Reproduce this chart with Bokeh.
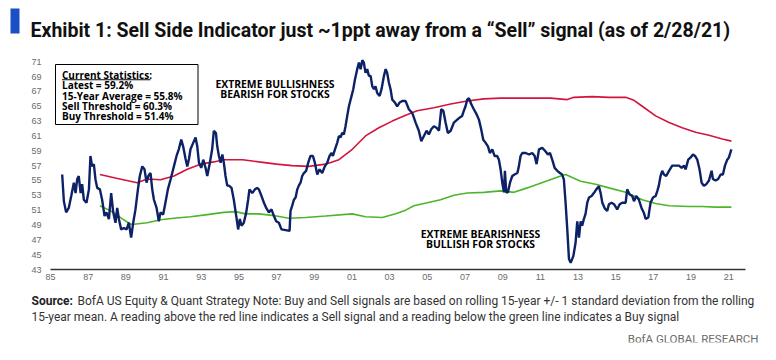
from bokeh.plotting import figure
from bokeh.models import Range1d, FixedTicker, Label, BoxAnnotation
from bokeh.embed import file_html
from bokeh.resources import INLINE

# ---------------- data ----------------
indicator_year = [1985.62, 1985.71, 1985.83, 1985.97, 1986.10, 1986.24, 1986.33, 1986.42, 1986.50, 1986.60,
    1986.68, 1986.77, 1986.91, 1987.04, 1987.12, 1987.21, 1987.30, 1987.39, 1987.48, 1987.62,
    1987.74, 1987.87, 1987.97, 1988.10, 1988.22, 1988.33, 1988.45, 1988.54, 1988.63, 1988.75,
    1988.89, 1989.04, 1989.16, 1989.28, 1989.39, 1989.51, 1989.64, 1989.74, 1989.87, 1989.99,
    1990.10, 1990.19, 1990.31, 1990.40, 1990.49, 1990.63, 1990.75, 1990.84, 1990.98, 1991.10,
    1991.23, 1991.37, 1991.55, 1991.69, 1991.81, 1991.94, 1992.04, 1992.17, 1992.26, 1992.35,
    1992.43, 1992.58, 1992.70, 1992.79, 1992.88, 1993.00, 1993.11, 1993.23, 1993.32, 1993.46,
    1993.58, 1993.67, 1993.78, 1993.85, 1993.94, 1994.03, 1994.12, 1994.20, 1994.29, 1994.38,
    1994.47, 1994.61, 1994.73, 1994.86, 1994.96, 1995.05, 1995.14, 1995.26, 1995.39, 1995.49,
    1995.56, 1995.71, 1995.85, 1995.97, 1996.06, 1996.20, 1996.33, 1996.45, 1996.59, 1996.73,
    1996.86, 1996.98, 1997.12, 1997.26, 1997.48, 1997.69, 1997.74, 1997.83, 1997.92, 1998.01,
    1998.10, 1998.18, 1998.27, 1998.36, 1998.45, 1998.57, 1998.68, 1998.80, 1998.93, 1999.03,
    1999.16, 1999.28, 1999.42, 1999.56, 1999.69, 1999.81, 1999.92, 1999.99, 2000.10, 2000.22,
    2000.31, 2000.40, 2000.48, 2000.57, 2000.66, 2000.75, 2000.84, 2000.98, 2001.07, 2001.16,
    2001.28, 2001.37, 2001.46, 2001.55, 2001.63, 2001.72, 2001.81, 2001.90, 2001.99, 2002.08,
    2002.17, 2002.25, 2002.34, 2002.47, 2002.57, 2002.70, 2002.79, 2002.87, 2002.96, 2003.05,
    2003.14, 2003.28, 2003.40, 2003.53, 2003.67, 2003.85, 2004.02, 2004.20, 2004.38, 2004.55,
    2004.68, 2004.82, 2004.96, 2005.08, 2005.21, 2005.35, 2005.49, 2005.62, 2005.74, 2005.85,
    2005.97, 2006.09, 2006.24, 2006.41, 2006.59, 2006.73, 2006.85, 2006.94, 2007.03, 2007.12,
    2007.21, 2007.33, 2007.47, 2007.62, 2007.74, 2007.86, 2007.97, 2008.09, 2008.22, 2008.32,
    2008.45, 2008.57, 2008.71, 2008.80, 2008.89, 2008.98, 2009.07, 2009.12, 2009.19, 2009.28,
    2009.39, 2009.51, 2009.63, 2009.78, 2009.86, 2009.95, 2010.04, 2010.22, 2010.40, 2010.57,
    2010.70, 2010.80, 2010.93, 2011.10, 2011.28, 2011.40, 2011.51, 2011.63, 2011.76, 2011.90,
    2012.04, 2012.16, 2012.25, 2012.34, 2012.43, 2012.52, 2012.61, 2012.75, 2012.87, 2012.96,
    2013.05, 2013.14, 2013.22, 2013.31, 2013.40, 2013.49, 2013.58, 2013.72, 2013.84, 2013.97,
    2014.11, 2014.20, 2014.29, 2014.43, 2014.55, 2014.64, 2014.78, 2014.91, 2015.08, 2015.21,
    2015.35, 2015.53, 2015.61, 2015.74, 2015.88, 2015.97, 2016.09, 2016.23, 2016.37, 2016.50,
    2016.59, 2016.73, 2016.85, 2016.98, 2017.12, 2017.21, 2017.29, 2017.38, 2017.47, 2017.56,
    2017.68, 2017.83, 2018.00, 2018.18, 2018.36, 2018.50, 2018.62, 2018.71, 2018.85, 2018.98,
    2019.10, 2019.21, 2019.33, 2019.45, 2019.56, 2019.68, 2019.81, 2019.95, 2020.09, 2020.16,
    2020.30, 2020.44, 2020.57, 2020.69, 2020.80, 2020.92, 2021.01, 2021.14]
indicator_value = [55.8, 52.2, 50.7, 51.3, 52.9, 54.7, 53.3, 55.2, 55.6, 53.3,
    54.5, 52.4, 52.0, 53.8, 58.3, 56.9, 57.2, 55.1, 54.0, 53.8,
    52.4, 50.2, 50.7, 49.8, 53.3, 50.7, 49.3, 51.3, 49.8, 48.4,
    48.6, 48.4, 49.3, 47.3, 49.3, 51.1, 53.8, 55.6, 56.9, 56.5,
    54.7, 55.6, 56.0, 53.8, 52.4, 51.3, 49.5, 50.7, 50.4, 52.0,
    53.8, 55.1, 56.9, 58.3, 59.2, 60.5, 59.6, 57.9, 56.9, 57.9,
    59.2, 60.1, 60.8, 59.6, 57.4, 56.7, 57.8, 56.7, 55.6, 57.4,
    59.2, 61.7, 61.4, 59.6, 58.3, 57.4, 58.5, 57.4, 55.6, 54.3,
    54.3, 54.0, 52.4, 50.2, 48.4, 49.8, 48.9, 49.3, 50.7, 52.4,
    53.8, 53.3, 53.8, 54.0, 53.8, 52.9, 52.0, 51.3, 50.7, 51.1,
    50.2, 49.5, 49.3, 48.4, 48.3, 48.2, 50.9, 51.6, 52.4, 52.7,
    53.8, 54.3, 54.7, 55.6, 56.0, 56.3, 57.4, 58.3, 58.3, 57.4,
    55.8, 56.5, 56.0, 56.9, 57.4, 58.3, 58.7, 58.3, 59.2, 60.1,
    61.0, 60.8, 61.4, 61.2, 62.3, 63.7, 65.0, 66.4, 67.3, 68.6,
    70.0, 70.9, 70.0, 71.2, 70.9, 69.5, 70.0, 69.1, 69.1, 67.7,
    67.3, 67.7, 66.8, 66.4, 67.3, 69.1, 70.0, 69.5, 68.2, 67.3,
    65.9, 65.5, 65.0, 65.5, 65.7, 65.7, 64.6, 64.1, 62.8, 61.7,
    60.3, 61.0, 61.7, 61.2, 61.9, 62.3, 62.1, 61.7, 64.6, 64.4,
    62.8, 61.4, 61.7, 62.8, 63.2, 63.5, 63.7, 64.4, 65.0, 65.9,
    66.1, 65.3, 64.6, 63.9, 63.2, 61.9, 60.5, 60.1, 59.6, 58.7,
    59.2, 58.3, 58.3, 57.8, 56.5, 54.7, 53.4, 56.3, 53.4, 53.4,
    54.7, 55.6, 55.8, 56.0, 56.9, 58.3, 58.7, 58.7, 58.5, 58.7,
    58.3, 57.2, 59.2, 59.4, 58.9, 58.5, 58.7, 57.8, 56.7, 56.3,
    56.0, 55.8, 55.1, 52.0, 48.4, 44.4, 43.9, 44.8, 46.6, 49.5,
    47.3, 49.5, 48.9, 49.8, 50.5, 52.0, 52.7, 52.9, 53.3, 53.8,
    54.2, 53.3, 52.0, 51.2, 50.9, 51.8, 52.0, 51.8, 51.1, 51.8,
    52.0, 52.0, 53.8, 53.1, 52.9, 52.2, 52.9, 52.4, 51.3, 50.6,
    49.8, 50.0, 52.0, 52.7, 52.9, 53.6, 54.3, 55.6, 56.3, 55.8,
    55.6, 56.3, 57.0, 57.0, 57.0, 56.7, 57.0, 56.5, 57.8, 58.1,
    58.5, 58.3, 57.8, 56.5, 54.7, 54.3, 54.5, 55.0, 56.3, 55.2,
    55.0, 55.2, 55.8, 55.8, 57.0, 57.8, 58.1, 59.2]

sell_year = [1987.62, 1988.50, 1989.60, 1990.13, 1990.84, 1991.55, 1992.26, 1992.96, 1993.67, 1994.20,
    1995.20, 1996.06, 1997.00, 1997.83, 1998.71, 1999.60, 2000.31, 2001.02, 2001.72, 2002.43,
    2003.14, 2003.85, 2004.46, 2005.35, 2006.24, 2007.12, 2008.00, 2008.89, 2009.78, 2010.66,
    2011.55, 2012.43, 2012.78, 2013.75, 2014.64, 2015.53, 2015.97, 2016.41, 2017.12, 2017.83,
    2018.53, 2019.24, 2019.95, 2020.66, 2021.14]
sell_value = [55.8, 55.3, 54.7, 55.2, 55.1, 55.6, 56.5, 57.2, 57.5, 57.8,
    57.8, 57.5, 57.2, 57.0, 56.9, 57.2, 57.8, 59.2, 61.0, 62.1,
    63.0, 63.8, 64.4, 64.8, 65.3, 65.7, 66.0, 66.1, 66.1, 66.1,
    66.1, 65.9, 66.2, 66.3, 66.2, 66.2, 65.8, 65.0, 63.7, 62.8,
    62.1, 61.5, 61.1, 60.6, 60.3]

buy_year = [1987.62, 1988.19, 1988.72, 1989.25, 1989.42, 1990.13, 1990.84, 1991.55, 1992.43, 1993.32,
    1994.20, 1994.82, 1995.35, 1996.06, 1996.77, 1997.65, 1998.54, 1999.60, 2001.02, 2001.72,
    2002.61, 2003.32, 2003.85, 2004.29, 2005.00, 2005.70, 2006.41, 2007.12, 2008.00, 2008.89,
    2009.60, 2010.30, 2011.19, 2012.08, 2012.34, 2013.14, 2013.93, 2014.64, 2015.53, 2016.41,
    2017.12, 2017.83, 2018.89, 2019.60, 2020.30, 2021.14]
buy_value = [51.6, 50.9, 50.0, 49.1, 49.1, 49.3, 49.7, 49.9, 50.1, 50.4,
    50.7, 50.8, 50.5, 50.5, 50.3, 49.9, 50.0, 50.2, 50.5, 50.1,
    50.0, 50.5, 51.0, 51.6, 52.0, 52.4, 53.0, 53.3, 53.4, 53.6,
    53.4, 54.0, 54.8, 55.6, 55.8, 54.9, 54.5, 54.0, 53.4, 52.4,
    51.9, 51.6, 51.5, 51.5, 51.4, 51.4]

x_ticks = [1985, 1987, 1989, 1991, 1993, 1995, 1997, 1999, 2001, 2003,
           2005, 2007, 2009, 2011, 2013, 2015, 2017, 2019, 2021]
x_tick_labels = ["85", "87", "89", "91", "93", "95", "97", "99", "01", "03",
                 "05", "07", "09", "11", "13", "15", "17", "19", "21"]
y_ticks = [43, 45, 47, 49, 51, 53, 55, 57, 59, 61, 63, 65, 67, 69, 71]

stats_lines = ["Latest = 59.2%", "15-Year Average = 55.8%",
               "Sell Threshold = 60.3%", "Buy Threshold = 51.4%"]

title_text = "Exhibit 1: Sell Side Indicator just ~1ppt away from a \u201cSell\u201d signal (as of 2/28/21)"
source_line1 = "BofA US Equity & Quant Strategy Note: Buy and Sell signals are based on rolling 15-year +/- 1 standard deviation from the rolling"
source_line2 = "15-year mean. A reading above the red line indicates a Sell signal and a reading below the green line indicates a Buy signal"

# ---------------- geometry (page pixels) ----------------
W, H = 776, 360
BORDER_RIGHT, BORDER_BOTTOM = 16, 18
FR_R = W - BORDER_RIGHT          # frame right (frame left = 0)
FR_B = H - BORDER_BOTTOM         # frame bottom (frame top = 0)
X_1985, PX_PER_YEAR = 50.0, 18.84
Y_43, PX_PER_UNIT = 269.0, 7.42
X_END_YEAR = 2021.89

x_lo = 1985 - X_1985 / PX_PER_YEAR
x_hi = 1985 + (FR_R - X_1985) / PX_PER_YEAR
y_lo = 43 - (FR_B - Y_43) / PX_PER_UNIT
y_hi = 43 + Y_43 / PX_PER_UNIT

NAVY = "#0c2166"
RED = "#d3143c"
GREEN = "#4cb52c"
BLUE_BAR = "#1a50c6"
SANS = "Roboto"
BOLDF = "Open Sans"

p = figure(width=W, height=H, output_backend="svg", toolbar_location=None,
           x_range=Range1d(x_lo, x_hi), y_range=Range1d(y_lo, y_hi),
           y_axis_location="right",
           min_border_left=0, min_border_top=0,
           min_border_right=BORDER_RIGHT, min_border_bottom=BORDER_BOTTOM)
p.outline_line_color = None
p.xgrid.visible = False
p.ygrid.visible = False
p.background_fill_color = "white"
p.border_fill_color = "white"

p.line(sell_year, sell_value, line_color=RED, line_width=1.6)
p.line(buy_year, buy_value, line_color=GREEN, line_width=1.6)
p.line(indicator_year, indicator_value, line_color=NAVY, line_width=2.4)

xa = p.xaxis[0]
xa.fixed_location = 43
xa.bounds = (1985, X_END_YEAR)
xa.ticker = FixedTicker(ticks=x_ticks)
xa.major_label_overrides = {t: l for t, l in zip(x_ticks, x_tick_labels)}
xa.axis_line_color = "#333333"
xa.axis_line_width = 1.5
xa.major_tick_line_color = None
xa.minor_tick_line_color = None
xa.major_tick_in = 0
xa.major_tick_out = 0
xa.minor_tick_in = 0
xa.minor_tick_out = 0
xa.major_label_text_font_size = "9px"
xa.major_label_text_color = "#6b6b6b"
xa.major_label_standoff = 4

ya = p.yaxis[0]
ya.fixed_location = 1985 - (X_1985 - 31) / PX_PER_YEAR
ya.ticker = FixedTicker(ticks=y_ticks)
ya.axis_line_color = None
ya.major_tick_line_color = None
ya.minor_tick_line_color = None
ya.major_tick_in = 0
ya.major_tick_out = 0
ya.minor_tick_in = 0
ya.minor_tick_out = 0
ya.major_label_text_font_size = "9px"
ya.major_label_text_color = "#6b6b6b"
ya.major_label_standoff = 0


def lab(text, x, y, size, bold=False, color="black", align="left", baseline="middle", font=BOLDF):
    p.add_layout(Label(x=x, y=FR_B - y, x_units="screen", y_units="screen", text=text,
                       text_font=font, text_font_size=f"{size}px",
                       text_font_style="bold" if bold else "normal", text_color=color,
                       text_align=align, text_baseline=baseline))


def box(l, r, t, b, fill=None, line=None, lw=1):
    p.add_layout(BoxAnnotation(left=l, right=r, top=FR_B - t, bottom=FR_B - b,
                               left_units="screen", right_units="screen",
                               top_units="screen", bottom_units="screen",
                               fill_color=fill if fill else "white", fill_alpha=1.0 if fill else 0,
                               line_color=line if line else "white", line_width=lw,
                               line_alpha=1.0 if line else 0))


# title
box(10, 19, 8, 33, fill=BLUE_BAR)
lab(title_text, 30, 30, 19.5, bold=True, color="#111111", baseline="alphabetic", font=SANS)

# stats box
box(55, 197.5, 64, 124, fill="white", line="black", lw=1)
lab("Current Statistics:", 61.5, 74, 10, bold=True)
box(61.5, 150, 78.8, 79.7, fill="black")
for i, s in enumerate(stats_lines):
    lab(s, 61.5, 84.9 + i * 10.3, 10, bold=True)

# annotations
lab("EXTREME BULLISHNESS", 274.5, 83.5, 10.4, bold=True, align="center")
lab("BEARISH FOR STOCKS", 274.5, 93.5, 10.4, bold=True, align="center")
lab("EXTREME BEARISHNESS", 480, 233.5, 10.4, bold=True, align="center")
lab("BULLISH FOR STOCKS", 480, 243.5, 10.4, bold=True, align="center")

# footer
lab("Source:", 31, 300, 12, bold=True, color="#222222", font=SANS)
lab(source_line1, 77, 300, 12, color="#333333", font=SANS)
lab(source_line2, 31, 316, 12, color="#333333", font=SANS)
lab("BofA GLOBAL RESEARCH", 758, 338, 11.5, color="#6b6b6b", align="right", font=SANS)

open("out.html", "w").write(file_html(p, INLINE))
